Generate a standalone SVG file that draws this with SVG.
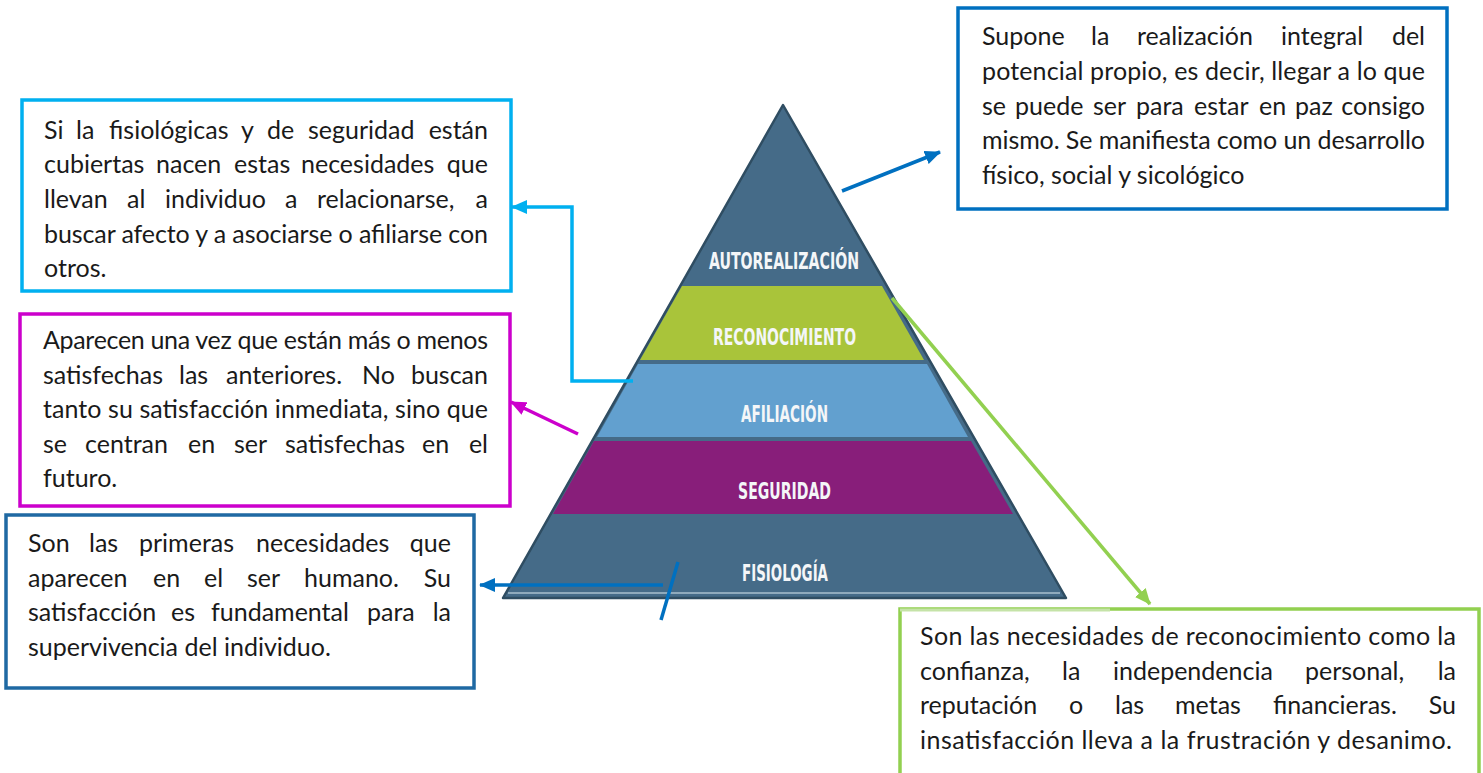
<svg xmlns="http://www.w3.org/2000/svg" width="1483" height="773" viewBox="0 0 1483 773">
<style>
.t{font-family:Lato,"Open Sans","Liberation Sans",sans-serif;font-size:25px;fill:#1a1a1a}
.e{text-anchor:end}
.lbl{font-family:"DejaVu Sans Condensed","DejaVu Sans",sans-serif;font-weight:bold;font-size:23.5px;fill:#f4f6f8;text-anchor:start}
.box{fill:#ffffff;stroke-width:3.5}
.cn{fill:none;stroke-width:3.5}
</style>
<defs>
<marker id="mBlue" markerUnits="userSpaceOnUse" markerWidth="16" markerHeight="14" viewBox="0 0 16 14" refX="15" refY="7" orient="auto"><path d="M0,0 L16,7 L0,14 z" fill="#0070C0"/></marker>
<marker id="mCyan" markerUnits="userSpaceOnUse" markerWidth="16" markerHeight="14" viewBox="0 0 16 14" refX="15" refY="7" orient="auto"><path d="M0,0 L16,7 L0,14 z" fill="#00B0F0"/></marker>
<marker id="mMag" markerUnits="userSpaceOnUse" markerWidth="16" markerHeight="14" viewBox="0 0 16 14" refX="15" refY="7" orient="auto"><path d="M0,0 L16,7 L0,14 z" fill="#CC00CC"/></marker>
<marker id="mGreen" markerUnits="userSpaceOnUse" markerWidth="16" markerHeight="14" viewBox="0 0 16 14" refX="15" refY="7" orient="auto"><path d="M0,0 L16,7 L0,14 z" fill="#92D050"/></marker>
</defs>
<rect width="1483" height="773" fill="#ffffff"/>

<g id="pyramid">
<polygon points="783,105 1066,598 503,598" fill="#456B88" stroke="#2F4D62" stroke-width="2.5" stroke-linejoin="round"/>
<polygon points="682,286 882,286 924,360 640,360" fill="#A9C43A"/>
<polygon points="638,364 927,364 968,437 597,437" fill="#62A0CF"/>
<polygon points="594,441 971,441 1013,514 553,514" fill="#881E7A"/>
<line x1="508" y1="593" x2="1060" y2="593" stroke="#A9BFCE" stroke-width="1.5"/>
<text class="lbl" x="709" y="269" textLength="150" lengthAdjust="spacingAndGlyphs">AUTOREALIZACIÓN</text>
<text class="lbl" x="713" y="345" textLength="143" lengthAdjust="spacingAndGlyphs">RECONOCIMIENTO</text>
<text class="lbl" x="741" y="422" textLength="87" lengthAdjust="spacingAndGlyphs">AFILIACIÓN</text>
<text class="lbl" x="738" y="499" textLength="93" lengthAdjust="spacingAndGlyphs">SEGURIDAD</text>
<text class="lbl" x="742" y="581" textLength="86" lengthAdjust="spacingAndGlyphs">FISIOLOGÍA</text>
</g>

<g id="box-afiliacion">
<rect class="box" x="22" y="100" width="489" height="191" stroke="#00B0F0"/>
<text class="t" y="139"><tspan x="44">Si</tspan><tspan x="76">la</tspan><tspan x="109">fisiológicas</tspan><tspan x="241">y</tspan><tspan x="267">de</tspan><tspan x="308">seguridad</tspan></text>
<text class="t e" x="488" y="139">están</text>
<text class="t" y="173"><tspan x="44">cubiertas</tspan><tspan x="156">nacen</tspan><tspan x="234">estas</tspan><tspan x="301">necesidades</tspan></text>
<text class="t e" x="488" y="173">que</text>
<text class="t" y="208"><tspan x="44">llevan</tspan><tspan x="127">al</tspan><tspan x="165">individuo</tspan><tspan x="285">a</tspan><tspan x="317">relacionarse,</tspan></text>
<text class="t e" x="488" y="208">a</text>
<text class="t" x="44" y="243" textLength="444" lengthAdjust="spacing">buscar afecto y a asociarse o afiliarse con</text>
<text class="t" x="44" y="277">otros.</text>
</g>

<g id="box-reconocimiento-izq">
<rect class="box" x="20" y="314" width="490" height="192" stroke="#CC00CC"/>
<text class="t" x="43" y="349" textLength="445" lengthAdjust="spacing">Aparecen una vez que están más o menos</text>
<text class="t" y="384"><tspan x="43">satisfechas</tspan><tspan x="179">las</tspan><tspan x="226">anteriores.</tspan><tspan x="362">No</tspan></text>
<text class="t e" x="488" y="384">buscan</text>
<text class="t" x="43" y="418" textLength="445" lengthAdjust="spacing">tanto su satisfacción inmediata, sino que</text>
<text class="t" y="453"><tspan x="43">se</tspan><tspan x="85">centran</tspan><tspan x="188">en</tspan><tspan x="234">ser</tspan><tspan x="285">satisfechas</tspan><tspan x="422">en</tspan></text>
<text class="t e" x="488" y="453">el</text>
<text class="t" x="43" y="487">futuro.</text>
</g>

<g id="box-fisiologia">
<rect class="box" x="6" y="515" width="468" height="173" stroke="#1F69A3"/>
<text class="t" y="552"><tspan x="28">Son</tspan><tspan x="89">las</tspan><tspan x="139">primeras</tspan><tspan x="256">necesidades</tspan></text>
<text class="t e" x="451" y="552">que</text>
<text class="t" y="587"><tspan x="28">aparecen</tspan><tspan x="153">en</tspan><tspan x="204">el</tspan><tspan x="247">ser</tspan><tspan x="304">humano.</tspan></text>
<text class="t e" x="451" y="587">Su</text>
<text class="t" y="621"><tspan x="28">satisfacción</tspan><tspan x="171">es</tspan><tspan x="211">fundamental</tspan><tspan x="367">para</tspan></text>
<text class="t e" x="451" y="621">la</text>
<text class="t" x="28" y="656">supervivencia del individuo.</text>
</g>

<g id="box-autorealizacion">
<rect class="box" x="958" y="8" width="489" height="201" stroke="#0070C0"/>
<text class="t" y="45"><tspan x="982">Supone</tspan><tspan x="1091">la</tspan><tspan x="1137">realización</tspan><tspan x="1281">integral</tspan></text>
<text class="t e" x="1425" y="45">del</text>
<text class="t" x="982" y="80" textLength="443" lengthAdjust="spacing">potencial propio, es decir, llegar a lo que</text>
<text class="t" y="115"><tspan x="982">se</tspan><tspan x="1015">puede</tspan><tspan x="1093">ser</tspan><tspan x="1136">para</tspan><tspan x="1194">estar</tspan><tspan x="1259">en</tspan><tspan x="1295">paz</tspan></text>
<text class="t e" x="1425" y="115">consigo</text>
<text class="t" x="982" y="149" textLength="443" lengthAdjust="spacing">mismo. Se manifiesta como un desarrollo</text>
<text class="t" x="982" y="184">físico, social y sicológico</text>
</g>

<g id="box-reconocimiento">
<rect class="box" x="900" y="609" width="579" height="200" stroke="#92D050"/>
<line x1="900" y1="610" x2="1110" y2="610" stroke="#C5E3A8" stroke-width="3"/>
<text class="t" x="920" y="645" textLength="536" lengthAdjust="spacing">Son las necesidades de reconocimiento como la</text>
<text class="t" y="680"><tspan x="920">confianza,</tspan><tspan x="1062">la</tspan><tspan x="1113">independencia</tspan><tspan x="1305">personal,</tspan></text>
<text class="t e" x="1456" y="680">la</text>
<text class="t" y="714"><tspan x="920">reputación</tspan><tspan x="1069">o</tspan><tspan x="1115">las</tspan><tspan x="1175">metas</tspan><tspan x="1273">financieras.</tspan></text>
<text class="t e" x="1456" y="714">Su</text>
<text class="t" x="920" y="749" textLength="532" lengthAdjust="spacing">insatisfacción lleva a la frustración y desanimo.</text>
</g>

<g id="connectors">
<line class="cn" x1="842" y1="191" x2="940" y2="152" stroke="#0070C0" marker-end="url(#mBlue)"/>
<polyline class="cn" points="633,381 572,381 572,207 512,207" stroke="#00B0F0" marker-end="url(#mCyan)"/>
<line class="cn" x1="578" y1="434" x2="511" y2="402" stroke="#CC00CC" marker-end="url(#mMag)"/>
<line class="cn" x1="663" y1="585" x2="480" y2="585" stroke="#0070C0" marker-end="url(#mBlue)"/>
<line class="cn" x1="678" y1="562" x2="661" y2="620" stroke="#0070C0"/>
<line class="cn" x1="892" y1="298" x2="1150" y2="604" stroke="#92D050" marker-end="url(#mGreen)"/>
</g>
</svg>
